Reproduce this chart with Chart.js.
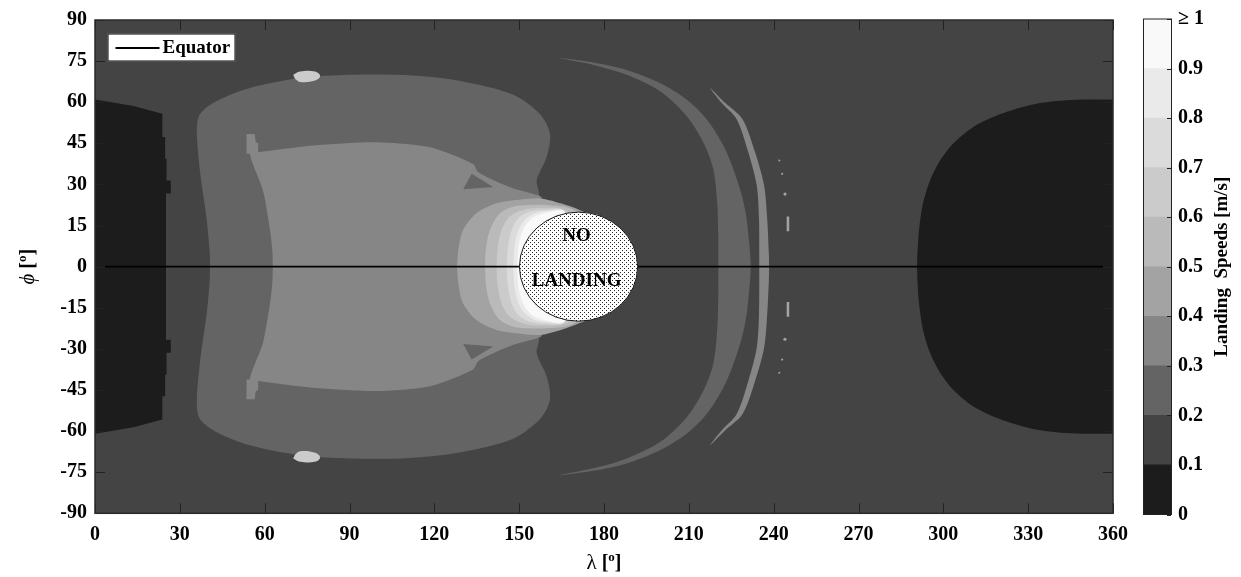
<!DOCTYPE html>
<html>
<head>
<meta charset="utf-8">
<script src="https://cdn.jsdelivr.net/npm/chart.js@4.4.1/dist/chart.umd.min.js"></script>
<style>
  html, body { margin: 0; padding: 0; background: #fff; }
  #wrap { position: relative; width: 1241px; height: 577px; overflow: hidden; }
  #map { position: absolute; left: 0; top: 0; }
  #scale { position: absolute; left: 1100px; top: 0; }
</style>
</head>
<body>
<div id="wrap">
  <canvas id="map" width="1241" height="577"></canvas>
  <canvas id="scale" width="141" height="577"></canvas>
</div>
<script>
// ---- speed classes (m/s) and their greys ----
const speedLevels = [0, 0.1, 0.2, 0.3, 0.4, 0.5, 0.6, 0.7, 0.8, 0.9];
const levelGreys = ['#1c1c1c', '#444444', '#646464', '#868686', '#a3a3a3',
                    '#bababa', '#cbcbcb', '#dbdbdb', '#eaeaea', '#f9f9f9'];
const speedTickLabels = ['0', '0.1', '0.2', '0.3', '0.4', '0.5', '0.6', '0.7', '0.8', '0.9', '\u2265 1'];

// ---- axis ticks ----
const lonTicks = [0, 30, 60, 90, 120, 150, 180, 210, 240, 270, 300, 330, 360];
const latTicks = [-90, -75, -60, -45, -30, -15, 0, 15, 30, 45, 60, 75, 90];

// ---- contour regions, northern halves as [longitude, latitude] ----
// (the field is symmetric about the equator; southern halves are mirrored)
const slowWest = [[0,0],[0,61],[13.6,58.6],[23.8,55.8],[23.8,47.3],[24.8,47.3],[24.8,39.4],[25.3,39.4],
                  [25.3,31.4],[26.8,31.4],[26.8,26.7],[25.1,26.7],[25.1,0]];
const slowEast = [[290.7,0],[290.9,6],[291.4,13.4],[292.8,23.1],[295.3,31.4],[298.8,38.6],[303.4,44.8],
                  [310.5,50.9],[320,55.6],[331.7,59.2],[345,60.8],[360,61],[368,61],[368,0]];
const outerBand = [[40.7,0],[40.5,6],[39.5,17.1],[37.1,35.1],[36,49.6],[37.1,55.6],[43,60.4],[54.8,65.2],
                   [72.5,68.8],[90.2,70],[111.4,69.8],[130,67.6],[147.8,62.8],[157.4,55.6],[160.9,48.4],
                   [159.7,40],[156.2,31.5],[157,26],[150,0]];
const innerCore = [[62.9,0],[62.7,6],[61.9,13.4],[59.4,27.8],[54.8,41.2],[58.3,41.8],[77.1,44.2],[99,45.4],
                   [118.5,43.6],[133.7,37.5],[135.5,34.5],[141,31.5],[148,28.5],[155,26.5],[158,25],[150,0]];
const coreNub = [[53.6,41.2],[53.6,48.4],[56.5,48.4],[56.8,45.5],[57.7,45],[57.7,41.2]];
const coreNotch = [[133.2,33.9],[130.2,28.2],[140.8,29.1]];
const polarPatch = [[70.1,70.0],[72.5,71.2],[77.8,71.2],[79.6,69.6],[77.8,67.9],[72.5,67.4],[70.7,68.6]];
const wideArc = [[220.4,0],[220.4,5],[220.4,11.7],[220,23.7],[218.6,35.7],[215.1,45.4],[209.2,55],[199.8,64],
                 [188,70],[176.2,73.6],[164.4,76.1],[176.2,74.5],[188,71.8],[199.8,67],[209.2,61],[216.3,53.8],
                 [222.2,44.2],[225.7,35.7],[228.7,26.1],[230.4,17.7],[231.4,8.1],[231.8,3],[231.9,0]];
const thinArc = [[234.9,0],[234.9,4],[234.8,17.7],[234,29.7],[231,41.8],[226.9,53.8],[221.6,59.8],[217.5,65.2],
                 [222.8,59.8],[229,53.8],[233.4,41.8],[236.6,29.7],[237.7,17.7],[238.3,5],[238.4,0]];
const streak = [[244.6,12.9],[245.5,12.9],[245.5,18.3],[244.6,18.3]];
const specksLon = [242, 243, 244];
const specksLat = [38.7, 33.9, 26.5];
const specksSize = [1, 1.1, 1.6];

// shells wrapping the excluded zone, slowest (outermost) first
const shell1 = [[128,0],[128.6,7],[130.2,13.5],[134.9,19.5],[142,23.1],[149.1,24.3],[157.4,24.9],[165,23],[171.5,20.6],[178,17],[180,0]];
const shell2 = [[137.9,0],[138.3,7],[139.7,13.5],[143.2,19.5],[147.9,21.9],[153.8,22.5],[159.7,22.5],[168,21.3],[175,16],[175,0]];
const shell3 = [[142,0],[142.4,7],[143.8,13.5],[146.7,18.3],[151.4,20.7],[158,21.5],[166,20.8],[172,16],[172,0]];
const shell4 = [[145.6,0],[146,7],[147.2,13],[149.5,17.5],[153.5,20],[160,20.8],[166,20.3],[172,0]];
const shell5 = [[147.9,0],[148.3,7],[149.4,12.5],[151.5,16.5],[155,19.2],[160,20.3],[166,20],[172,0]];
const shell6 = [[149.3,0],[149.7,7],[150.8,12],[152.5,15.5],[155.5,18.3],[160,19.8],[166,19.9],[172,0]];
const shells = [shell1, shell2, shell3, shell4, shell5, shell6];
const shellLevel = [4, 5, 6, 7, 8, 9];

// excluded zone: centre [lon, lat] and half-widths [lon, lat]
const noLandingCentre = [171, 0];
const noLandingRadii = [20.9, 19.9];

// equator reference line
const equatorLon = [3.5, 356.5];
const equatorLat = [0, 0];

// ---- helpers ----
const toXY = pts => pts.map(([x, y]) => ({ x, y }));
const flip = pts => pts.map(([x, y]) => [x, -y]);
// northern half + mirrored southern half -> closed outline
const mirrorLoop = upper => toXY(upper.concat(flip(upper).reverse()));

function region(label, points, grey, tension = 0) {
  return {
    type: 'line', label, data: points,
    backgroundColor: grey, borderColor: grey, borderWidth: 0,
    pointRadius: 0, pointHoverRadius: 0, tension, fill: 'shape'
  };
}

const serif = "'Liberation Serif', 'Times New Roman', serif";
Chart.defaults.font.family = serif;
Chart.defaults.font.size = 20;
Chart.defaults.font.weight = 'bold';
Chart.defaults.color = '#000';
Chart.defaults.animation = false;

// layers listed bottom to top
const layers = [
  region('slow west', mirrorLoop(slowWest), levelGreys[0]),
  region('slow east', mirrorLoop(slowEast), levelGreys[0], 0.3),
  region('outer band', mirrorLoop(outerBand), levelGreys[2], 0.3),
  region('inner core', mirrorLoop(innerCore), levelGreys[3], 0.25),
  region('core nub N', toXY(coreNub), levelGreys[3]),
  region('core nub S', toXY(flip(coreNub)), levelGreys[3]),
  region('notch N', toXY(coreNotch), levelGreys[2]),
  region('notch S', toXY(flip(coreNotch)), levelGreys[2]),
  region('polar patch N', toXY(polarPatch), levelGreys[6], 0.4),
  region('polar patch S', toXY(flip(polarPatch)), levelGreys[6], 0.4),
  region('wide arc', mirrorLoop(wideArc), levelGreys[2], 0.3),
  region('thin arc', mirrorLoop(thinArc), levelGreys[3], 0.3),
  region('streak N', toXY(streak), levelGreys[4]),
  region('streak S', toXY(flip(streak)), levelGreys[4]),
  ...shells.map((s, i) => region('shell ' + (i + 1), mirrorLoop(s), levelGreys[shellLevel[i]], 0.3)),
  {
    type: 'scatter', label: 'specks',
    data: specksLon.map((x, i) => ({ x, y: specksLat[i] }))
      .concat(specksLon.map((x, i) => ({ x, y: -specksLat[i] }))),
    pointRadius: specksSize.concat(specksSize),
    pointBackgroundColor: levelGreys[4], pointBorderWidth: 0
  },
  {
    type: 'line', label: 'Equator',
    data: equatorLon.map((x, i) => ({ x, y: equatorLat[i] })),
    borderColor: '#000', borderWidth: 1.8, pointRadius: 0, fill: false
  }
];
layers.forEach((d, i) => { d.order = layers.length - i; });

// dotted fill for the excluded zone
function stipple() {
  const c = document.createElement('canvas');
  c.width = 4; c.height = 4;
  const g = c.getContext('2d');
  g.fillStyle = '#fff'; g.fillRect(0, 0, 4, 4);
  g.fillStyle = '#2a2a2a';
  g.fillRect(0, 0, 1, 1); g.fillRect(2, 2, 1, 1);
  return c;
}

const areaBackground = {
  id: 'areaBackground',
  beforeDatasetsDraw(chart) {
    const { ctx, chartArea: a } = chart;
    ctx.save();
    ctx.fillStyle = levelGreys[1];
    ctx.fillRect(a.left, a.top, a.right - a.left, a.bottom - a.top);
    ctx.restore();
  }
};

const noLanding = {
  id: 'noLanding',
  afterDatasetsDraw(chart) {
    const { ctx, scales: { x, y } } = chart;
    const cx = x.getPixelForValue(noLandingCentre[0]);
    const cy = y.getPixelForValue(noLandingCentre[1]);
    const rx = Math.abs(x.getPixelForValue(noLandingCentre[0] + noLandingRadii[0]) - cx);
    const ry = Math.abs(y.getPixelForValue(noLandingCentre[1] + noLandingRadii[1]) - cy);
    ctx.save();
    ctx.beginPath();
    ctx.ellipse(cx, cy, rx, ry, 0, 0, Math.PI * 2);
    ctx.fillStyle = ctx.createPattern(stipple(), 'repeat');
    ctx.fill();
    ctx.strokeStyle = '#1a1a1a';
    ctx.lineWidth = 1;
    ctx.stroke();
    ctx.fillStyle = '#000';
    ctx.font = 'bold 19px ' + serif;
    ctx.textAlign = 'center';
    ctx.textBaseline = 'middle';
    ctx.fillText('NO', x.getPixelForValue(170.3), y.getPixelForValue(11.2));
    ctx.fillText('LANDING', x.getPixelForValue(170.3), y.getPixelForValue(-5.3));
    ctx.restore();
  }
};

function drawRuns(ctx, runs, cx, baseline) {
  let w = 0;
  runs.forEach(r => { ctx.font = r.font; r.w = ctx.measureText(r.text).width; w += r.w; });
  let px = cx - w / 2;
  ctx.textAlign = 'left';
  ctx.textBaseline = 'alphabetic';
  runs.forEach(r => { ctx.font = r.font; ctx.fillText(r.text, px, baseline + (r.dy || 0)); px += r.w; });
}

const frame = {
  id: 'frame',
  afterDraw(chart) {
    const { ctx, chartArea: a, scales: { x, y } } = chart;
    ctx.save();
    // inward tick marks on all four sides
    ctx.strokeStyle = '#222';
    ctx.lineWidth = 1;
    ctx.beginPath();
    x.ticks.forEach(t => {
      const px = Math.round(x.getPixelForValue(t.value)) + 0.5;
      ctx.moveTo(px, a.bottom); ctx.lineTo(px, a.bottom - 10);
      ctx.moveTo(px, a.top); ctx.lineTo(px, a.top + 10);
    });
    y.ticks.forEach(t => {
      const py = Math.round(y.getPixelForValue(t.value)) + 0.5;
      ctx.moveTo(a.left, py); ctx.lineTo(a.left + 10, py);
      ctx.moveTo(a.right, py); ctx.lineTo(a.right - 10, py);
    });
    ctx.stroke();
    ctx.strokeStyle = '#2a2a2a';
    ctx.lineWidth = 1.5;
    ctx.strokeRect(a.left, a.top, a.right - a.left, a.bottom - a.top);

    // legend
    const eq = chart.data.datasets.find(d => d.label === 'Equator');
    const lx = a.left + 12.5, ly = a.top + 13.5;
    ctx.fillStyle = '#fff';
    ctx.fillRect(lx, ly, 128, 28);
    ctx.strokeStyle = '#000';
    ctx.lineWidth = 1;
    ctx.strokeRect(lx + 0.5, ly + 0.5, 127, 27);
    ctx.beginPath();
    ctx.moveTo(lx + 8, ly + 14.5); ctx.lineTo(lx + 52, ly + 14.5);
    ctx.lineWidth = eq.borderWidth; ctx.strokeStyle = eq.borderColor;
    ctx.stroke();
    ctx.fillStyle = '#000';
    ctx.font = 'bold 19px ' + serif;
    ctx.textAlign = 'left';
    ctx.textBaseline = 'middle';
    ctx.fillText(eq.label, lx + 55, ly + 15);

    // axis titles
    ctx.fillStyle = '#000';
    drawRuns(ctx, [
      { text: '\u03bb', font: '21px ' + serif },
      { text: ' [', font: 'bold 20px ' + serif },
      { text: 'o', font: 'bold 13px ' + serif, dy: -8 },
      { text: ']', font: 'bold 20px ' + serif }
    ], (a.left + a.right) / 2, a.bottom + 56);
    ctx.save();
    ctx.translate(27, (a.top + a.bottom) / 2);
    ctx.rotate(-Math.PI / 2);
    drawRuns(ctx, [
      { text: '\u03d5', font: 'italic 21px ' + serif },
      { text: ' [', font: 'bold 20px ' + serif },
      { text: 'o', font: 'bold 13px ' + serif, dy: -8 },
      { text: ']', font: 'bold 20px ' + serif }
    ], 0, 7);
    ctx.restore();
    ctx.restore();
  }
};

new Chart(document.getElementById('map'), {
  type: 'line',
  data: { datasets: layers },
  options: {
    responsive: false,
    devicePixelRatio: 1,
    events: [],
    layout: { padding: { top: 14.7, right: 128, left: 0, bottom: 0 } },
    plugins: { legend: { display: false }, tooltip: { enabled: false } },
    scales: {
      x: {
        type: 'linear', min: 0, max: 360, position: 'bottom',
        afterBuildTicks: s => { s.ticks = lonTicks.map(v => ({ value: v })); },
        ticks: { padding: 10, maxRotation: 0, autoSkip: false, callback: v => String(v) },
        grid: { display: false, drawTicks: false },
        border: { display: false },
        afterFit: s => { s.height = 63.7; }
      },
      y: {
        type: 'linear', min: -90, max: 90,
        afterBuildTicks: s => { s.ticks = latTicks.map(v => ({ value: v })); },
        ticks: { padding: 8, autoSkip: false, callback: v => String(v) },
        grid: { display: false, drawTicks: false },
        border: { display: false },
        afterFit: s => { s.width = 95; }
      }
    }
  },
  plugins: [areaBackground, noLanding, frame]
});

// ---- colour bar ----
const scaleFrame = {
  id: 'scaleFrame',
  afterDraw(chart) {
    const { ctx, chartArea: a, scales: { y } } = chart;
    ctx.save();
    ctx.strokeStyle = '#222';
    ctx.lineWidth = 1;
    ctx.strokeRect(Math.round(a.left) + 0.5, a.top, Math.round(a.right - a.left), a.bottom - a.top);
    ctx.beginPath();
    y.ticks.forEach(t => {
      const py = Math.round(y.getPixelForValue(t.value)) + 0.5;
      ctx.moveTo(a.right, py); ctx.lineTo(a.right - 4, py);
    });
    ctx.stroke();
    ctx.translate(a.right + 51, (a.top + a.bottom) / 2);
    ctx.rotate(-Math.PI / 2);
    ctx.fillStyle = '#000';
    ctx.font = 'bold 19px ' + serif;
    ctx.textAlign = 'center';
    ctx.textBaseline = 'middle';
    ctx.fillText('Landing  Speeds [m/s]', 0, 0);
    ctx.restore();
  }
};

new Chart(document.getElementById('scale'), {
  type: 'bar',
  data: {
    labels: [''],
    datasets: speedLevels.map((lv, i) => ({
      label: lv.toFixed(1), data: [0.1], backgroundColor: levelGreys[i],
      borderWidth: 0, barPercentage: 1, categoryPercentage: 1
    }))
  },
  options: {
    responsive: false,
    devicePixelRatio: 1,
    events: [],
    layout: { padding: { top: 14.7, right: 0, left: 43.3, bottom: 62.5 } },
    plugins: { legend: { display: false }, tooltip: { enabled: false } },
    scales: {
      x: { stacked: true, display: false },
      y: {
        stacked: true, min: 0, max: 1, position: 'right',
        afterBuildTicks: s => { s.ticks = speedTickLabels.map((_, i) => ({ value: i / 10 })); },
        ticks: { padding: 7, autoSkip: false, callback: (v, i) => speedTickLabels[i] },
        grid: { display: false, drawTicks: false },
        border: { display: false },
        afterFit: s => { s.width = 70; }
      }
    }
  },
  plugins: [scaleFrame]
});
</script>
</body>
</html>
